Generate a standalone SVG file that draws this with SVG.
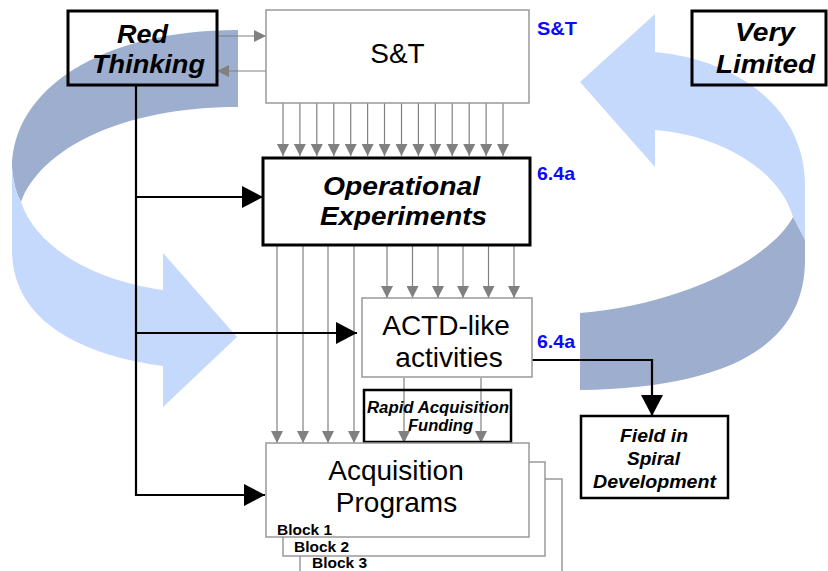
<svg xmlns="http://www.w3.org/2000/svg" width="828" height="571" viewBox="0 0 828 571">
<style>
text{font-family:"Liberation Sans",Arial,Helvetica,sans-serif;fill:#000}
.reg{font-size:28px}
.bi{font-weight:bold;font-style:italic}
.blue{font-weight:bold;font-size:19px;fill:#0a0aff}
.blk{font-weight:bold;font-size:15.5px}
.gbox{fill:#fff;stroke:#999;stroke-width:1.5}
.kbox{fill:none;stroke:#000;stroke-width:3}
.g{stroke:#808080;stroke-width:1.2;fill:none;marker-end:url(#ga)}
.k{stroke:#000;stroke-width:2.2;fill:none}
.ka{marker-end:url(#ka)}
.dark{fill:#9daece}
.light{fill:#c5d9fc}
</style>
<defs>
<marker id="ga" markerUnits="userSpaceOnUse" markerWidth="12" markerHeight="12" refX="12" refY="6" orient="auto"><path d="M0,0 L12,6 L0,12 z" fill="#808080"/></marker>
<marker id="ka" markerUnits="userSpaceOnUse" markerWidth="22" markerHeight="22" refX="21" refY="11" orient="auto"><path d="M0,0 L21,11 L0,22 z" fill="#000"/></marker>
</defs>

<g id="ribbons">
<path class="dark" d="M238,30 C100,30 12,90 12,168 Q14,190 21,202 C40,150 120,107 238,107 Z"/>
<path class="light" d="M12,168 L12,250 C12,320 80,355 163,366 L163,407 L237,337 L163,253 L163,290 C90,280 35,245 21,202 Q14,190 12,168 Z"/>
<path class="light" d="M580,82 L655,14 L655,52 C740,60 805,110 805,185 L805,240 L793,217 C780,170 720,135 655,130 L655,167 Z"/>
<path class="dark" d="M805,240 L805,260 C805,350 720,388 580,390 L580,313 C680,305 770,260 793,217 Z"/>
</g>

<g id="connectors">
<line class="g" x1="217" y1="36" x2="266" y2="36"/>
<line class="g" x1="266" y1="71" x2="217" y2="71"/>
<line class="g" x1="283" y1="103" x2="283" y2="156"/>
<line class="g" x1="299.9" y1="103" x2="299.9" y2="156"/>
<line class="g" x1="316.8" y1="103" x2="316.8" y2="156"/>
<line class="g" x1="333.8" y1="103" x2="333.8" y2="156"/>
<line class="g" x1="350.7" y1="103" x2="350.7" y2="156"/>
<line class="g" x1="367.6" y1="103" x2="367.6" y2="156"/>
<line class="g" x1="384.5" y1="103" x2="384.5" y2="156"/>
<line class="g" x1="401.5" y1="103" x2="401.5" y2="156"/>
<line class="g" x1="418.4" y1="103" x2="418.4" y2="156"/>
<line class="g" x1="435.3" y1="103" x2="435.3" y2="156"/>
<line class="g" x1="452.2" y1="103" x2="452.2" y2="156"/>
<line class="g" x1="469.2" y1="103" x2="469.2" y2="156"/>
<line class="g" x1="486.1" y1="103" x2="486.1" y2="156"/>
<line class="g" x1="503" y1="103" x2="503" y2="156"/>
<line class="g" x1="387" y1="246" x2="387" y2="298"/>
<line class="g" x1="412.5" y1="246" x2="412.5" y2="298"/>
<line class="g" x1="438" y1="246" x2="438" y2="298"/>
<line class="g" x1="463" y1="246" x2="463" y2="298"/>
<line class="g" x1="488.5" y1="246" x2="488.5" y2="298"/>
<line class="g" x1="514" y1="246" x2="514" y2="298"/>
<line class="g" x1="277" y1="246" x2="277" y2="443"/>
<line class="g" x1="303" y1="246" x2="303" y2="443"/>
<line class="g" x1="328" y1="246" x2="328" y2="443"/>
<line class="g" x1="354" y1="246" x2="354" y2="443"/>
<line class="g" x1="404" y1="378" x2="404" y2="443"/>
<line class="g" x1="481" y1="378" x2="481" y2="443"/>
<line class="k" x1="136" y1="85" x2="136" y2="496"/>
<line class="k ka" x1="135" y1="197" x2="263" y2="197"/>
<line class="k ka" x1="135" y1="333" x2="357" y2="333"/>
<line class="k ka" x1="135" y1="495" x2="265" y2="495"/>
<path class="k ka" d="M532,360 L652,360 L652,416"/>
</g>

<g id="red-thinking">
<rect class="kbox" x="68" y="11" width="149" height="74"/>
<text class="bi" font-size="26" x="117" y="43" textLength="51" lengthAdjust="spacingAndGlyphs">Red</text>
<text class="bi" font-size="26" x="92" y="73" textLength="113" lengthAdjust="spacingAndGlyphs">Thinking</text>
</g>

<g id="very-limited">
<rect class="kbox" x="692" y="11" width="134" height="74"/>
<text class="bi" font-size="26" x="735" y="41" textLength="60" lengthAdjust="spacingAndGlyphs">Very</text>
<text class="bi" font-size="26" x="716" y="73" textLength="99" lengthAdjust="spacingAndGlyphs">Limited</text>
</g>

<g id="st">
<rect class="gbox" x="266" y="10" width="263" height="93"/>
<text class="reg" x="397.5" y="63" text-anchor="middle">S&amp;T</text>
<text class="blue" x="537" y="35" textLength="40" lengthAdjust="spacingAndGlyphs">S&amp;T</text>
</g>

<g id="operational-experiments">
<rect class="kbox" x="263" y="158" width="267" height="87" fill="#fff"/>
<text class="bi" font-size="26" x="323" y="195" textLength="157" lengthAdjust="spacingAndGlyphs">Operational</text>
<text class="bi" font-size="26" x="320" y="225" textLength="167" lengthAdjust="spacingAndGlyphs">Experiments</text>
<text class="blue" x="537" y="180" textLength="38" lengthAdjust="spacingAndGlyphs">6.4a</text>
</g>

<g id="actd">
<rect class="gbox" x="362" y="298" width="170" height="79"/>
<text class="reg" x="446" y="335" text-anchor="middle">ACTD-like</text>
<text class="reg" x="449" y="367" text-anchor="middle">activities</text>
<text class="blue" x="537" y="348" textLength="38" lengthAdjust="spacingAndGlyphs">6.4a</text>
</g>

<g id="rapid-acquisition-funding">
<rect x="364" y="390" width="147" height="52" fill="none" stroke="#000" stroke-width="2.5"/>
<text class="bi" font-size="16" x="367" y="413" textLength="142" lengthAdjust="spacingAndGlyphs">Rapid Acquisition</text>
<text class="bi" font-size="16" x="408" y="431" textLength="65" lengthAdjust="spacingAndGlyphs">Funding</text>
</g>

<g id="acquisition-programs">
<rect class="gbox" x="300" y="479" width="262" height="110"/>
<rect class="gbox" x="283" y="462" width="262" height="94"/>
<rect class="gbox" x="266" y="443" width="263" height="94"/>
<text class="reg" x="396" y="480" text-anchor="middle">Acquisition</text>
<text class="reg" x="396.5" y="512" text-anchor="middle">Programs</text>
<text class="blk" x="277" y="535">Block 1</text>
<text class="blk" x="294" y="552">Block 2</text>
<text class="blk" x="312" y="568">Block 3</text>
</g>

<g id="field-spiral">
<rect x="581" y="416" width="147" height="82" fill="#fff" stroke="#000" stroke-width="2.5"/>
<text class="bi" font-size="18" x="620" y="442" textLength="68" lengthAdjust="spacingAndGlyphs">Field in</text>
<text class="bi" font-size="18" x="627" y="465" textLength="53" lengthAdjust="spacingAndGlyphs">Spiral</text>
<text class="bi" font-size="18" x="593" y="488" textLength="123" lengthAdjust="spacingAndGlyphs">Development</text>
</g>
</svg>
